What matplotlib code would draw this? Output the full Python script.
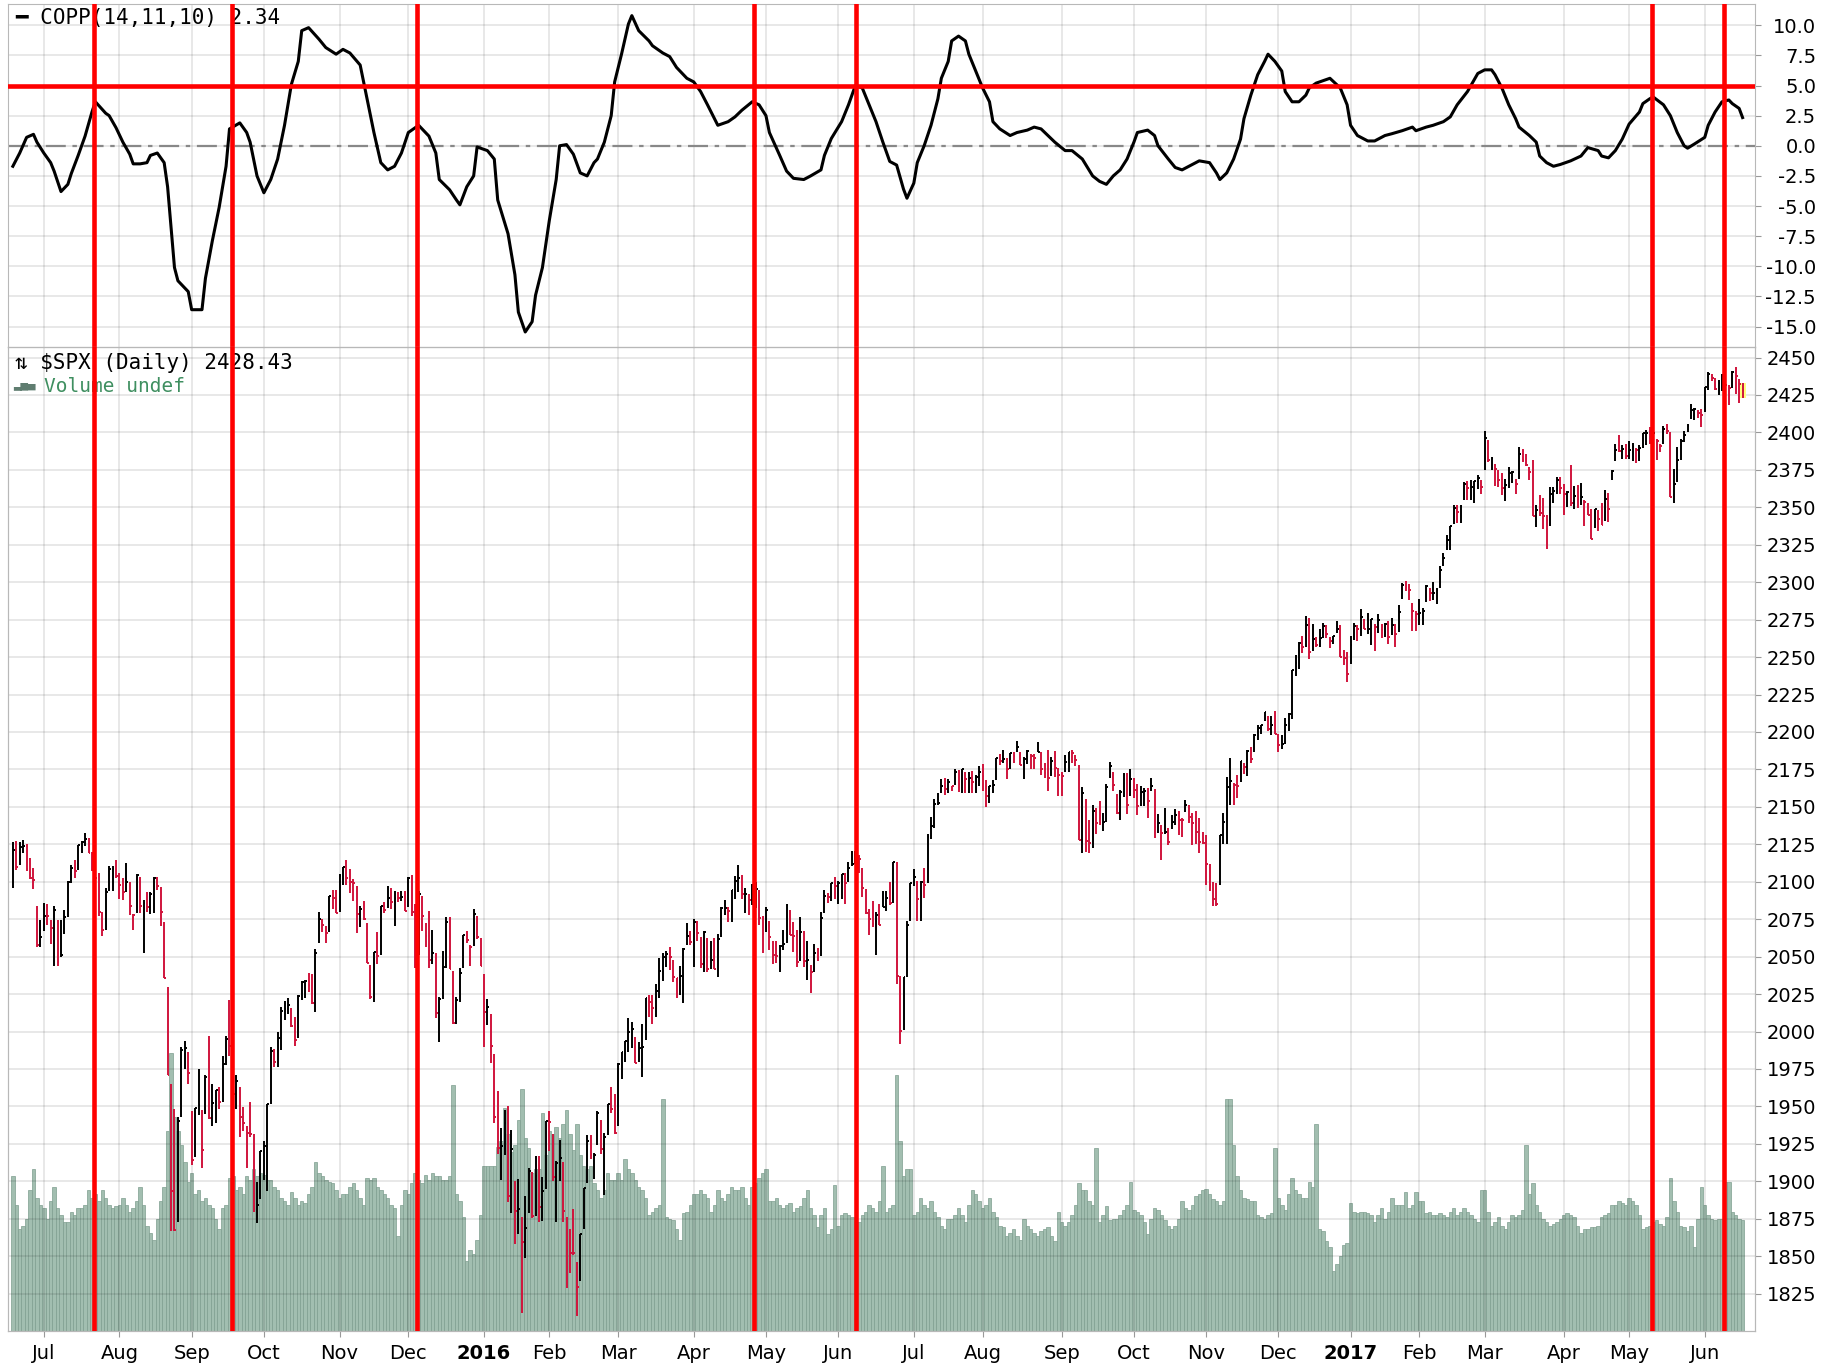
import matplotlib.pyplot as plt
import numpy as np

plt.rcParams['font.family'] = 'DejaVu Sans'
plt.rcParams['axes.unicode_minus'] = False

# S&P 500 daily bars, trading-day index 0 = 2015-06-18 ... 503 = 2017-06-16
close_px = [
    # 2015 Jun
    2121.2, 2110.0, 2122.9, 2124.2, 2108.6, 2102.3, 2101.5, 2057.6, 2063.1,
    # Jul
    2077.4, 2076.8, 2068.8, 2081.3, 2046.7, 2051.3, 2076.6, 2099.6, 2109.0, 2107.4, 2124.3,
    2126.6, 2128.3, 2119.2, 2114.2, 2102.2, 2079.7, 2067.6, 2093.3, 2108.6, 2108.6, 2103.8,
    # Aug
    2098.0, 2093.3, 2099.8, 2083.6, 2077.6, 2104.2, 2084.1, 2086.1, 2083.4, 2091.5, 2102.4,
    2096.9, 2079.6, 2035.7, 1970.9, 1893.2, 1867.6, 1940.5, 1987.7, 1988.9, 1972.2,
    # Sep
    1913.9, 1948.9, 1951.1, 1921.2, 1969.4, 1942.0, 1952.3, 1961.1, 1953.0, 1978.1, 1995.3,
    1990.2, 1958.0, 1967.0, 1942.7, 1938.8, 1932.2, 1931.3, 1881.8, 1884.1, 1920.0,
    # Oct
    1923.8, 1951.4, 1987.1, 1979.9, 1995.8, 2013.4, 2014.9, 2017.5, 2003.7, 1994.2, 2023.9,
    2033.1, 2033.7, 2030.8, 2018.9, 2052.5, 2075.2, 2071.2, 2065.9, 2090.4, 2089.4, 2079.4,
    # Nov
    2104.1, 2109.8, 2102.3, 2099.9, 2099.2, 2078.6, 2081.7, 2075.0, 2046.0, 2023.0,
    2053.2, 2050.4, 2083.6, 2081.2, 2089.2, 2086.6, 2089.1, 2088.9, 2090.1, 2080.4,
    # Dec
    2102.6, 2079.5, 2049.6, 2091.7, 2077.1, 2063.6, 2047.6, 2052.2, 2012.4, 2021.9, 2043.4,
    2073.1, 2041.9, 2005.6, 2021.2, 2039.0, 2064.3, 2061.0, 2056.5, 2078.4, 2063.4, 2043.9,
    # 2016 Jan
    2012.7, 2016.7, 1990.3, 1943.1, 1922.0, 1923.7, 1938.7, 1890.3, 1921.8, 1880.3,
    1881.3, 1859.3, 1869.0, 1906.9, 1877.1, 1903.6, 1883.0, 1893.4, 1940.2,
    # Feb
    1939.4, 1903.0, 1912.5, 1915.5, 1880.1, 1853.4, 1852.2, 1851.9, 1829.1, 1864.8,
    1895.6, 1926.8, 1917.8, 1917.8, 1945.5, 1921.3, 1929.8, 1951.7, 1948.1, 1932.2,
    # Mar
    1978.4, 1986.5, 1993.4, 2000.0, 2001.8, 1979.3, 1989.3, 1989.6, 2022.2, 2019.6, 2015.9,
    2027.2, 2040.6, 2049.6, 2051.6, 2049.8, 2036.7, 2035.9, 2037.1, 2055.0, 2064.0, 2059.7,
    # Apr
    2072.8, 2066.1, 2045.2, 2066.7, 2041.9, 2047.6, 2042.0, 2061.7, 2082.4, 2082.8, 2080.7,
    2094.3, 2100.8, 2102.4, 2091.5, 2091.6, 2087.8, 2091.7, 2095.2, 2075.8, 2065.3,
    # May
    2081.4, 2063.4, 2051.1, 2050.6, 2057.1, 2058.7, 2084.4, 2064.5, 2064.1, 2046.6, 2066.7,
    2047.2, 2047.6, 2040.0, 2052.3, 2048.0, 2076.1, 2090.5, 2090.1, 2099.1, 2097.0,
    # Jun
    2099.3, 2105.3, 2099.1, 2109.4, 2112.1, 2119.1, 2115.5, 2096.1, 2079.1, 2075.3, 2071.5,
    2078.0, 2071.2, 2083.3, 2088.9, 2085.5, 2113.3, 2037.4, 2000.5, 2036.1, 2070.8, 2098.9,
    # Jul
    2103.0, 2088.6, 2099.7, 2097.9, 2129.9, 2137.2, 2152.1, 2152.4, 2163.8, 2161.7,
    2166.9, 2163.8, 2173.0, 2165.2, 2175.0, 2168.5, 2169.2, 2166.6, 2170.1, 2173.6,
    # Aug
    2170.8, 2157.0, 2163.8, 2164.3, 2182.9, 2180.9, 2181.7, 2175.5, 2185.8, 2184.1, 2190.2, 2178.2,
    2182.2, 2187.0, 2183.9, 2182.6, 2186.9, 2175.4, 2172.5, 2169.0, 2180.4, 2176.1, 2171.0,
    # Sep
    2170.9, 2180.0, 2186.5, 2186.2, 2181.3, 2127.8, 2159.0, 2127.0, 2125.8, 2147.3, 2139.2,
    2139.1, 2139.8, 2163.1, 2177.2, 2164.7, 2146.1, 2159.9, 2171.4, 2151.1, 2168.3,
    # Oct
    2161.2, 2150.5, 2159.7, 2160.8, 2153.7, 2163.7, 2136.7, 2139.2, 2132.6, 2133.0, 2126.5,
    2139.6, 2144.3, 2141.3, 2141.2, 2151.3, 2143.2, 2139.4, 2133.0, 2126.4, 2126.2,
    # Nov
    2111.7, 2097.9, 2088.7, 2085.2, 2131.5, 2139.6, 2163.3, 2167.5, 2164.5, 2164.2, 2180.4,
    2176.9, 2187.1, 2181.9, 2198.2, 2202.9, 2204.7, 2213.4, 2201.7, 2204.7, 2198.8,
    # Dec
    2191.1, 2192.0, 2204.7, 2212.2, 2241.4, 2246.2, 2259.5, 2257.0, 2271.7, 2253.3, 2262.0,
    2258.1, 2262.5, 2270.8, 2265.2, 2261.0, 2263.8, 2268.9, 2249.9, 2249.3, 2238.8,
    # 2017 Jan
    2257.8, 2270.8, 2269.0, 2277.0, 2268.9, 2268.9, 2275.3, 2270.4, 2274.6, 2267.9,
    2271.9, 2263.7, 2271.3, 2265.2, 2280.1, 2298.4, 2296.7, 2294.7, 2280.9, 2278.9,
    # Feb
    2279.6, 2280.9, 2297.4, 2292.6, 2293.1, 2294.7, 2307.9, 2316.1, 2328.3, 2337.6,
    2349.3, 2347.2, 2351.2, 2365.4, 2362.8, 2363.8, 2367.3, 2369.8, 2363.6,
    # Mar
    2396.0, 2381.9, 2383.1, 2375.3, 2368.4, 2363.0, 2364.9, 2372.6, 2373.5, 2365.5, 2385.3, 2381.4,
    2378.3, 2373.5, 2344.0, 2348.5, 2346.0, 2344.0, 2341.6, 2358.6, 2361.1, 2368.1, 2362.7,
    # Apr
    2358.8, 2360.2, 2353.0, 2357.5, 2355.5, 2357.2, 2353.8, 2344.9, 2329.0, 2349.0,
    2342.2, 2338.2, 2355.8, 2348.7, 2374.2, 2388.6, 2387.5, 2388.8, 2384.2,
    # May
    2388.3, 2391.2, 2388.1, 2389.5, 2399.3, 2399.4, 2396.9, 2399.6, 2394.4, 2390.9, 2402.3,
    2400.7, 2357.0, 2365.7, 2381.7, 2394.0, 2398.4, 2404.4, 2415.1, 2415.8, 2412.9, 2411.8,
    # Jun
    2430.1, 2439.1, 2436.1, 2429.3, 2433.1, 2433.8, 2431.8, 2429.4, 2440.4, 2437.9, 2432.5, 2428.4,
]

high_px = [
    2126.6, 2126.9, 2126.6, 2128.0, 2125.1, 2116.0, 2108.9, 2084.0, 2074.3,
    2085.7, 2085.1, 2074.2, 2083.7, 2074.5, 2074.2, 2081.3, 2100.7, 2111.0, 2114.2, 2124.4,
    2126.9, 2132.8, 2129.0, 2119.6, 2116.9, 2106.0, 2079.7, 2095.6, 2110.6, 2110.5, 2114.2,
    2105.7, 2102.5, 2112.7, 2099.8, 2078.7, 2105.4, 2103.2, 2087.6, 2092.9, 2092.9, 2103.0,
    2103.5, 2096.2, 2073.0, 2029.6, 1965.0, 1948.0, 1943.1, 1989.6, 1993.5, 1986.0,
    1947.2, 1948.9, 1975.0, 1947.8, 1970.9, 1997.0, 1965.0, 1961.1, 1963.1, 1983.5, 1997.3,
    2020.9, 1989.4, 1971.0, 1962.8, 1949.5, 1937.2, 1952.9, 1931.8, 1899.5, 1920.5,
    1927.2, 1951.4, 1989.4, 1988.5, 1999.4, 2016.5, 2020.1, 2022.3, 2016.0, 2009.6, 2024.2,
    2033.5, 2034.5, 2039.1, 2038.2, 2055.2, 2079.7, 2075.1, 2070.4, 2090.4, 2094.3, 2094.3,
    2105.0, 2110.0, 2114.6, 2108.8, 2101.9, 2097.1, 2083.7, 2086.9, 2072.4, 2044.6,
    2053.2, 2066.7, 2083.6, 2086.7, 2097.1, 2095.6, 2094.1, 2093.0, 2093.8, 2093.8,
    2103.4, 2104.3, 2085.0, 2093.8, 2090.4, 2072.4, 2080.3, 2067.7, 2052.2, 2022.9, 2053.9,
    2076.7, 2076.4, 2040.6, 2022.9, 2042.7, 2064.7, 2067.4, 2058.0, 2081.6, 2077.3, 2062.5,
    2038.2, 2021.9, 2011.7, 1985.3, 1960.4, 1935.7, 1947.4, 1950.3, 1934.5, 1900.3,
    1901.4, 1876.1, 1889.9, 1908.9, 1906.3, 1916.8, 1916.8, 1902.9, 1940.2,
    1947.2, 1931.7, 1913.4, 1927.4, 1913.1, 1875.9, 1868.3, 1881.6, 1846.2, 1864.8,
    1895.8, 1930.7, 1930.7, 1918.8, 1946.7, 1941.2, 1932.1, 1951.8, 1963.0, 1958.6,
    1978.7, 1986.5, 1993.7, 2009.1, 2006.5, 1996.3, 1992.7, 2005.1, 2022.4, 2024.6, 2024.6,
    2032.0, 2049.3, 2052.4, 2053.9, 2056.6, 2048.0, 2036.0, 2044.0, 2055.9, 2072.2, 2067.4,
    2075.1, 2074.0, 2062.9, 2067.4, 2062.6, 2060.6, 2062.3, 2065.0, 2083.2, 2087.8, 2083.4,
    2094.5, 2104.1, 2111.1, 2104.8, 2096.0, 2091.6, 2098.2, 2099.9, 2094.3, 2076.8,
    2083.4, 2074.0, 2060.2, 2060.2, 2057.7, 2067.8, 2084.9, 2081.1, 2073.4, 2067.7, 2076.6,
    2067.4, 2060.5, 2044.3, 2058.4, 2055.6, 2079.7, 2094.7, 2092.4, 2099.1, 2103.5,
    2100.2, 2105.3, 2106.0, 2113.4, 2120.6, 2120.6, 2118.1, 2109.0, 2095.0, 2081.9, 2087.1,
    2079.6, 2085.2, 2093.7, 2093.9, 2099.5, 2113.3, 2113.3, 2037.4, 2036.1, 2073.7, 2098.9,
    2108.7, 2100.7, 2100.7, 2109.1, 2131.7, 2143.2, 2155.4, 2159.0, 2168.9, 2169.1,
    2168.7, 2163.9, 2175.6, 2174.6, 2175.6, 2173.6, 2173.5, 2174.0, 2171.0, 2177.1,
    2178.3, 2168.1, 2163.8, 2168.2, 2182.9, 2185.4, 2187.7, 2182.3, 2185.8, 2186.3, 2193.8, 2186.3,
    2183.1, 2187.9, 2185.0, 2185.2, 2193.4, 2186.7, 2179.0, 2187.9, 2183.4, 2187.1, 2175.8,
    2173.6, 2184.9, 2186.6, 2187.9, 2184.9, 2177.9, 2163.3, 2155.4, 2141.3, 2151.3, 2149.0,
    2153.6, 2145.7, 2165.1, 2179.9, 2173.3, 2158.5, 2161.1, 2172.4, 2172.7, 2175.3,
    2169.6, 2165.5, 2163.9, 2162.9, 2162.9, 2169.6, 2161.6, 2145.4, 2138.2, 2149.2, 2135.6,
    2144.4, 2148.4, 2147.2, 2142.6, 2154.8, 2151.4, 2145.7, 2147.1, 2142.4, 2133.3,
    2131.5, 2111.8, 2099.9, 2099.1, 2131.5, 2145.7, 2170.1, 2182.3, 2165.9, 2171.4, 2180.8,
    2179.2, 2188.1, 2189.9, 2198.7, 2204.8, 2204.7, 2213.4, 2211.0, 2210.5, 2214.1,
    2198.8, 2197.9, 2209.4, 2212.5, 2241.6, 2251.7, 2259.8, 2264.0, 2277.5, 2276.2, 2272.1,
    2263.3, 2269.0, 2272.6, 2271.2, 2263.2, 2263.8, 2273.8, 2271.3, 2254.5, 2253.6,
    2263.9, 2273.0, 2271.2, 2282.1, 2275.5, 2279.3, 2275.3, 2271.8, 2278.7, 2272.1,
    2272.6, 2274.3, 2276.0, 2271.8, 2284.6, 2299.6, 2301.0, 2299.0, 2286.0, 2281.0,
    2289.1, 2283.0, 2298.3, 2296.2, 2300.0, 2295.9, 2311.1, 2319.2, 2331.6, 2337.6,
    2351.3, 2351.3, 2351.3, 2366.7, 2367.8, 2368.3, 2367.3, 2371.5, 2368.0,
    2401.0, 2394.8, 2383.9, 2378.8, 2375.1, 2373.1, 2369.1, 2376.9, 2374.4, 2368.6, 2390.0, 2388.7,
    2385.7, 2376.9, 2381.9, 2351.8, 2358.2, 2356.2, 2344.9, 2363.8, 2363.8, 2370.4, 2370.4,
    2365.9, 2361.0, 2378.4, 2364.2, 2365.1, 2366.4, 2355.2, 2352.7, 2348.8, 2349.1,
    2348.4, 2352.6, 2361.4, 2359.3, 2375.0, 2392.0, 2398.2, 2391.4, 2392.1,
    2394.5, 2392.9, 2389.8, 2391.4, 2399.3, 2401.4, 2403.9, 2399.7, 2395.5, 2392.2, 2404.0,
    2405.8, 2400.0, 2375.7, 2390.0, 2395.5, 2400.8, 2405.6, 2418.7, 2416.0, 2415.3, 2415.8,
    2430.1, 2440.2, 2439.0, 2436.2, 2435.3, 2439.0, 2446.2, 2431.9, 2441.0, 2443.8, 2435.8, 2433.0,
]

low_px = [
    2096.1, 2108.0, 2111.2, 2119.3, 2107.0, 2101.8, 2095.4, 2056.3, 2056.2,
    2067.1, 2071.3, 2058.4, 2044.0, 2044.0, 2049.8, 2065.0, 2076.6, 2099.2, 2102.7, 2108.0,
    2118.9, 2123.7, 2119.1, 2106.9, 2098.6, 2077.1, 2063.5, 2067.6, 2094.1, 2094.1, 2102.5,
    2088.5, 2087.6, 2093.3, 2077.8, 2067.9, 2079.1, 2079.1, 2052.1, 2080.0, 2078.3, 2079.3,
    2094.3, 2070.5, 2035.7, 1970.9, 1867.0, 1867.1, 1872.8, 1942.8, 1975.2, 1965.1,
    1911.0, 1916.5, 1944.4, 1908.9, 1944.7, 1941.3, 1937.0, 1939.1, 1948.0, 1953.0, 1977.9,
    1983.4, 1953.6, 1948.6, 1929.8, 1933.5, 1908.8, 1929.3, 1879.2, 1871.9, 1888.0,
    1900.7, 1893.7, 1951.4, 1976.4, 1976.4, 1987.5, 2007.5, 2011.9, 2002.9, 1990.4, 1995.4,
    2020.9, 2022.3, 2026.6, 2018.1, 2013.0, 2058.8, 2066.5, 2058.8, 2066.3, 2081.6, 2079.1,
    2080.0, 2098.1, 2097.5, 2092.4, 2087.4, 2066.0, 2069.7, 2074.2, 2045.7, 2022.0,
    2019.4, 2045.0, 2051.0, 2079.1, 2082.6, 2081.5, 2070.3, 2086.3, 2086.9, 2080.4,
    2082.9, 2077.1, 2042.4, 2051.2, 2066.8, 2056.3, 2042.7, 2045.0, 2008.9, 1993.3, 2022.0,
    2042.4, 2041.7, 2005.3, 2005.1, 2020.0, 2042.2, 2058.9, 2044.0, 2057.2, 2061.6, 2043.6,
    1989.7, 2004.2, 1979.1, 1938.8, 1918.5, 1901.1, 1917.3, 1886.3, 1878.9, 1857.8,
    1864.6, 1812.3, 1848.9, 1878.9, 1875.8, 1877.1, 1872.7, 1873.4, 1894.7,
    1920.3, 1900.1, 1872.7, 1900.5, 1872.7, 1828.5, 1839.0, 1851.0, 1810.1, 1833.4,
    1868.3, 1898.8, 1915.0, 1901.4, 1924.4, 1918.4, 1891.0, 1930.7, 1945.8, 1931.9,
    1937.1, 1968.5, 1979.8, 1986.5, 1989.3, 1979.1, 1979.8, 1969.3, 1994.5, 2009.6, 2005.1,
    2010.0, 2022.4, 2033.8, 2043.1, 2040.8, 2032.8, 2022.5, 2024.5, 2019.2, 2057.5, 2057.6,
    2043.1, 2060.6, 2042.6, 2039.7, 2039.5, 2041.9, 2041.9, 2036.2, 2062.9, 2078.0, 2073.3,
    2073.0, 2088.6, 2093.3, 2088.6, 2079.1, 2077.5, 2084.3, 2082.3, 2071.0, 2052.3,
    2066.2, 2054.4, 2045.4, 2045.8, 2039.5, 2054.6, 2059.3, 2064.5, 2053.1, 2043.1, 2047.0,
    2043.0, 2034.5, 2025.9, 2040.0, 2047.3, 2050.4, 2078.9, 2085.5, 2087.0, 2088.7,
    2085.1, 2088.6, 2085.4, 2100.0, 2110.6, 2112.0, 2106.0, 2089.9, 2078.5, 2064.6, 2070.0,
    2051.0, 2071.2, 2083.3, 2080.6, 2084.7, 2085.8, 2032.0, 1991.7, 2001.0, 2036.1, 2074.0,
    2097.0, 2074.0, 2074.0, 2089.4, 2099.1, 2128.8, 2135.9, 2151.1, 2159.1, 2157.9,
    2159.5, 2160.6, 2164.9, 2159.8, 2159.3, 2159.0, 2159.0, 2159.0, 2159.1, 2163.8,
    2160.4, 2149.6, 2152.7, 2159.1, 2168.0, 2177.9, 2179.1, 2168.5, 2175.5, 2179.4, 2186.3, 2178.1,
    2168.5, 2178.4, 2175.1, 2175.1, 2186.8, 2171.3, 2169.1, 2160.4, 2170.7, 2170.1, 2157.1,
    2157.0, 2173.6, 2173.4, 2179.1, 2177.5, 2127.8, 2119.1, 2120.0, 2119.1, 2122.4, 2131.6,
    2138.0, 2133.9, 2139.6, 2169.0, 2160.9, 2145.4, 2141.5, 2156.5, 2145.4, 2157.1,
    2156.1, 2144.9, 2150.3, 2150.3, 2142.6, 2160.4, 2128.9, 2132.8, 2114.7, 2132.0, 2124.4,
    2135.5, 2138.2, 2131.4, 2130.1, 2146.3, 2139.2, 2124.8, 2125.3, 2119.1, 2125.5,
    2097.9, 2094.0, 2083.8, 2083.8, 2097.9, 2125.4, 2125.0, 2151.2, 2151.2, 2156.1, 2166.4,
    2172.2, 2170.9, 2179.3, 2186.4, 2194.5, 2198.4, 2207.0, 2200.4, 2198.2, 2198.4,
    2186.9, 2188.4, 2192.0, 2200.4, 2208.9, 2237.1, 2242.0, 2252.6, 2257.0, 2248.4, 2253.8,
    2257.0, 2257.0, 2262.9, 2263.0, 2256.1, 2258.8, 2266.2, 2249.8, 2244.6, 2233.6,
    2245.1, 2261.6, 2260.5, 2264.1, 2268.9, 2265.3, 2258.4, 2254.3, 2266.1, 2262.8,
    2263.4, 2258.8, 2265.0, 2257.0, 2266.8, 2288.9, 2294.1, 2288.1, 2267.2, 2267.2,
    2271.7, 2271.7, 2287.0, 2287.6, 2288.1, 2285.4, 2296.1, 2311.1, 2321.4, 2321.4,
    2338.9, 2339.6, 2339.6, 2355.1, 2355.1, 2355.1, 2352.9, 2362.1, 2358.7,
    2375.0, 2380.2, 2375.1, 2364.0, 2363.5, 2358.0, 2354.5, 2363.0, 2366.4, 2358.6, 2368.6, 2380.1,
    2377.8, 2368.4, 2344.0, 2336.9, 2344.2, 2335.7, 2322.3, 2337.6, 2352.9, 2358.7, 2359.0,
    2344.7, 2350.0, 2350.7, 2348.9, 2349.7, 2351.5, 2337.3, 2344.9, 2328.9, 2336.1,
    2334.5, 2338.2, 2340.9, 2340.3, 2368.0, 2381.2, 2386.8, 2382.4, 2382.4,
    2382.4, 2380.6, 2379.8, 2380.7, 2389.6, 2391.4, 2392.4, 2390.5, 2381.9, 2387.2, 2392.4,
    2399.2, 2357.0, 2352.7, 2367.0, 2381.9, 2393.9, 2400.1, 2408.9, 2408.6, 2409.6, 2403.6,
    2413.5, 2428.1, 2434.5, 2428.2, 2424.8, 2427.5, 2415.7, 2418.5, 2430.0, 2425.5, 2419.4, 2422.9,
]

volume = [
    4.4, 3.6, 2.9, 3.0, 3.2, 4.0, 4.6, 3.8, 3.6, 3.5,
    3.2, 3.7, 4.1, 3.5, 3.3, 3.1, 3.1, 3.4, 3.3, 3.5,
    3.5, 3.6, 4.0, 3.8, 3.9, 3.7, 4.0, 3.8, 3.6, 3.5,
    3.55, 3.6, 3.8, 3.6, 3.4, 3.5, 3.7, 4.1, 3.6, 3.0,
    2.8, 2.6, 3.2, 3.7, 4.1, 5.7, 7.9, 6.1, 5.7, 5.3,
    4.8, 4.25, 4.5, 3.9, 4.0, 3.7, 3.8, 3.6, 3.5, 3.2,
    2.9, 3.5, 3.6, 4.35, 4.4, 4.0, 4.1, 3.9, 4.4, 4.3,
    4.6, 4.4, 4.5, 4.45, 4.3, 4.3, 4.1, 4.0, 3.8, 3.7,
    3.6, 3.95, 3.8, 3.6, 3.7, 3.65, 3.9, 4.1, 4.8, 4.5,
    4.4, 4.3, 4.25, 4.2, 4.0, 3.8, 3.9, 3.9, 4.1, 4.2,
    4.0, 3.8, 3.6, 4.35, 4.3, 4.35, 4.1, 4.0, 3.9, 3.8,
    3.6, 3.5, 2.7, 3.6, 4.0, 3.9, 4.2, 4.5, 4.3, 4.2,
    4.45, 4.3, 4.5, 4.4, 4.4, 4.3, 4.3, 4.4, 7.0, 3.9,
    3.7, 3.25, 2.0, 2.3, 2.2, 2.6, 3.3, 4.7, 4.7, 4.7,
    4.7, 5.25, 5.4, 6.35, 5.6, 5.1, 5.3, 6.0, 6.9, 5.5,
    5.2, 4.5, 4.6, 4.6, 6.2, 5.0, 5.7, 5.6, 5.8, 5.5,
    5.9, 6.3, 5.6, 5.15, 5.9, 5.0, 4.7, 4.6, 4.7, 4.2,
    4.0, 3.8, 4.0, 4.5, 4.3, 4.3, 4.5, 4.3, 4.9, 4.6,
    4.5, 4.3, 4.1, 4.0, 3.8, 3.3, 3.4, 3.5, 3.6, 6.6,
    3.25, 3.2, 3.15, 2.9, 2.6, 3.35, 3.4, 3.6, 3.9, 3.9,
    4.0, 3.9, 3.8, 3.4, 3.6, 4.0, 3.8, 3.7, 3.9, 4.1,
    4.0, 4.0, 4.1, 3.8, 3.6, 4.1, 4.2, 4.35, 4.5, 4.6,
    3.7, 3.7, 3.8, 3.6, 3.5, 3.6, 3.65, 3.4, 3.5, 3.55,
    3.8, 4.0, 3.5, 3.3, 2.95, 3.3, 3.5, 2.75, 2.9, 4.15,
    3.0, 3.3, 3.35, 3.3, 3.25, 3.1, 3.1, 3.3, 3.4, 3.6,
    3.5, 3.4, 3.7, 4.7, 3.4, 3.5, 3.6, 7.3, 5.4, 4.4,
    4.6, 4.6, 3.3, 3.4, 3.8, 3.6, 3.5, 3.7, 3.4, 3.25,
    3.0, 2.9, 3.2, 3.2, 3.3, 3.5, 3.3, 3.1, 3.6, 4.0,
    3.9, 3.7, 3.5, 3.6, 3.8, 3.4, 3.25, 3.0, 2.96, 2.7,
    2.8, 2.9, 2.7, 2.6, 3.2, 3.0, 2.9, 2.8, 2.7, 2.85,
    2.9, 2.95, 2.7, 2.55, 3.4, 3.1, 3.0, 3.1, 3.3, 3.6,
    4.2, 4.0, 4.0, 3.7, 3.6, 5.2, 3.1, 3.3, 3.55, 3.15,
    3.2, 3.2, 3.3, 3.45, 3.6, 4.25, 3.45, 3.4, 3.3, 3.1,
    2.75, 3.2, 3.5, 3.45, 3.3, 3.15, 3.0, 2.9, 3.0, 3.2,
    3.7, 3.5, 3.45, 3.6, 3.85, 3.9, 4.0, 4.05, 3.9, 3.75,
    3.7, 3.6, 3.7, 6.6, 6.6, 5.3, 4.4, 4.0, 3.8, 3.75,
    3.7, 3.7, 3.3, 3.25, 3.2, 3.3, 3.35, 5.2, 3.8, 3.6,
    3.45, 3.9, 4.35, 4.0, 3.9, 3.8, 3.8, 4.25, 4.1, 5.9,
    2.9, 2.85, 2.55, 2.4, 1.7, 1.9, 2.15, 2.45, 2.5, 3.65,
    3.4, 3.35, 3.4, 3.4, 3.35, 3.3, 3.1, 3.3, 3.5, 3.2,
    3.4, 3.8, 3.6, 3.6, 3.6, 3.95, 3.5, 3.6, 3.95, 3.7,
    3.7, 3.35, 3.4, 3.3, 3.3, 3.35, 3.3, 3.25, 3.4, 3.5,
    3.3, 3.4, 3.5, 3.4, 3.3, 3.2, 3.1, 4.0, 4.0, 3.4,
    3.0, 3.1, 3.25, 3.0, 2.9, 3.1, 3.3, 3.25, 3.3, 3.45,
    5.3, 3.9, 4.2, 3.6, 3.4, 3.2, 3.1, 3.0, 3.05, 3.1,
    3.2, 3.3, 3.35, 3.3, 3.25, 3.0, 2.8, 2.9, 2.9, 2.95,
    2.95, 3.0, 3.25, 3.3, 3.35, 3.6, 3.6, 3.7, 3.65, 3.6,
    3.8, 3.7, 3.6, 3.3, 2.9, 2.95, 3.0, 3.1, 3.15, 3.05,
    3.0, 3.25, 4.36, 3.7, 3.4, 3.0, 2.95, 2.85, 3.0, 2.4,
    3.2, 4.1, 3.6, 3.3, 3.2, 3.15, 3.2, 3.2, 4.25, 4.25,
    3.4, 3.3, 3.2, 3.15,
]

# Coppock curve (trading-day index, value)
copp_day = [
    0, 2, 4, 6, 7, 9, 11, 12, 14, 16, 17, 19, 21, 23, 24, 27, 28, 30, 32, 34, 35, 37, 39, 40,
    42, 44, 45, 46, 47, 48, 51, 52, 55, 56, 58, 60, 62, 63, 66, 68, 69, 71, 73, 75, 77, 79,
    81, 83, 84, 86, 89, 91, 94, 96, 98, 101, 102, 105, 107, 109, 111, 113, 115, 117, 118,
    121, 123, 124, 127, 129, 130, 132, 134, 135, 138, 140, 141, 144, 146, 147, 149, 151,
    152, 154, 156, 158, 159, 161, 163, 165, 167, 169, 170, 172, 174, 175, 177, 179, 180,
    182, 185, 186, 189, 191, 193, 196, 198, 200, 202, 205, 208, 210, 212, 215, 217, 219,
    220, 223, 225, 227, 230, 232, 235, 236, 238, 241, 243, 245, 247, 249, 251, 253, 255,
    257, 258, 259, 260, 262, 263, 265, 267, 269, 270, 272, 273, 275, 277, 278, 280, 282,
    284, 285, 287, 290, 292, 295, 297, 299, 301, 303, 306, 308, 311, 314, 316, 318, 320,
    322, 324, 326, 327, 330, 332, 333, 336, 338, 340, 343, 345, 348, 350, 351, 353, 355,
    357, 358, 360, 362, 364, 365, 367, 369, 370, 372, 374, 376, 377, 379, 382, 383, 386,
    388, 389, 391, 394, 396, 399, 401, 404, 407, 408, 411, 413, 416, 418, 420, 423, 425,
    426, 428, 430, 431, 433, 435, 437, 438, 441, 443, 444, 446, 448, 450, 453, 456, 458,
    461, 462, 464, 466, 468, 470, 473, 474, 476, 477, 480, 482, 484, 486, 487, 489, 492,
    493, 495, 497, 499, 500, 502, 503,
]
copp_value = [
    -1.7, -0.6, 0.7, 0.95, 0.3, -0.6, -1.4, -2.1, -3.8, -3.2, -2.3, -0.8, 0.8, 2.8, 3.65, 2.7,
    2.5, 1.5, 0.3, -0.7, -1.5, -1.5, -1.4, -0.8,
    -0.6, -1.4, -3.4, -6.7, -10.1, -11.2, -12.1, -13.6, -13.6, -11.0, -7.9, -5.1, -1.7, 1.4,
    1.9, 1.1, 0.3, -2.5, -3.9, -2.8, -1.1, 1.7,
    5.1, 7.0, 9.55, 9.8, 8.85, 8.15, 7.6, 8.0, 7.7, 6.7, 5.3, 1.1, -1.4, -2.0, -1.7, -0.6, 1.1,
    1.5, 1.7,
    0.8, -0.6, -2.8, -3.65, -4.5, -4.9, -3.4, -2.5, -0.1, -0.4, -1.1, -4.5, -7.3, -10.7,
    -13.8, -15.45, -14.6,
    -12.4, -10.1, -6.2, -2.8, 0.0, 0.1, -0.7, -2.25, -2.5, -1.4, -1.1, 0.3, 2.5, 5.3, 7.6,
    10.1, 10.8,
    9.55, 8.7, 8.3, 7.7, 7.4, 6.5, 5.6, 5.3, 4.5, 3.4, 1.7, 2.0, 2.4, 2.95, 3.65, 3.4, 2.5,
    1.1, -0.8, -2.1, -2.7, -2.8, -2.5, -2.0, -0.8, 0.6, 2.0, 3.4, 5.0, 4.8, 3.4, 2.0, 0.3,
    -1.3,
    -1.6, -2.6, -3.6, -4.35, -3.1, -1.4, 0.0, 1.7, 3.9, 5.6, 7.0, 8.7, 9.1, 8.7, 7.6, 6.2,
    4.8,
    3.65, 2.0, 1.4, 0.85, 1.1, 1.3, 1.55, 1.4, 0.85, 0.3, -0.4, -0.4, -1.1, -2.5, -2.95,
    -3.2, -2.5,
    -2.0, -1.1, 0.3, 1.1, 1.3, 0.85, 0.0, -1.1, -1.8, -2.0, -1.55, -1.25, -1.4, -2.25, -2.8,
    -2.25, -1.1,
    0.55, 2.25, 4.2, 5.9, 7.0, 7.6, 7.0, 6.2, 4.5, 3.65, 3.65, 4.2, 4.8, 5.2, 5.5, 5.6, 4.8,
    3.4, 1.7, 0.85, 0.4, 0.4, 0.85, 1.0, 1.25, 1.55, 1.25, 1.55, 1.7, 2.0, 2.4, 3.4, 4.5,
    5.5,
    6.0, 6.3, 6.3, 5.9, 4.8, 3.4, 2.25, 1.55, 0.85, 0.3, -0.85, -1.4, -1.7, -1.55, -1.25,
    -0.85, -0.15,
    -0.4, -0.85, -1.0, -0.4, 0.55, 1.8, 2.8, 3.5, 3.9, 4.05, 3.4, 2.5, 1.1, 0.0, -0.2, 0.15,
    0.7,
    1.7, 2.8, 3.65, 3.8, 3.5, 3.1, 2.34,
]

# red signal lines drawn on the chart
signal_days = [23.7, 63.7, 117.5, 215.4, 245.2, 476.6, 497.6]
signal_level = 5.0

month_days = [9, 31, 52, 73, 95, 115, 137, 156, 176, 198, 219, 240,
              262, 282, 305, 326, 347, 368, 389, 409, 428, 451, 470, 492]
month_labels = ['Jul', 'Aug', 'Sep', 'Oct', 'Nov', 'Dec', '2016', 'Feb', 'Mar', 'Apr', 'May', 'Jun',
                'Jul', 'Aug', 'Sep', 'Oct', 'Nov', 'Dec', '2017', 'Feb', 'Mar', 'Apr', 'May', 'Jun']

assert len(close_px) == len(high_px) == len(low_px) == len(volume), \
    (len(close_px), len(high_px), len(low_px), len(volume))
assert len(copp_day) == len(copp_value), (len(copp_day), len(copp_value))

days = np.arange(len(close_px))
close_arr = np.array(close_px)
up = np.concatenate([[True], close_arr[1:] >= close_arr[:-1]])
bar_colors = np.where(up, '#000000', '#d0143c')

fig = plt.figure(figsize=(18.26, 13.68), dpi=100)
ax_top = fig.add_axes([0.0044, 0.7463, 0.9567, 0.2511])
ax_px = fig.add_axes([0.0044, 0.0270, 0.9567, 0.7193], sharex=ax_top)
ax_vol = ax_px.twinx()
ax_px.set_zorder(ax_vol.get_zorder() + 1)
ax_px.patch.set_visible(False)

grid_kw = dict(color='black', alpha=0.11, linewidth=1.2)

# --- Coppock panel ---
ax_top.plot(copp_day, copp_value, color='black', linewidth=2.2, zorder=3)
ax_top.axhline(0, color='#888888', linewidth=1.6, dashes=(9, 3, 2, 3), zorder=2)
ax_top.axhline(signal_level, color='#ff0000', linewidth=3.3, zorder=6)
ax_top.set_ylim(-16.7, 11.8)
ax_top.set_yticks(np.arange(-15, 10.1, 2.5))
ax_top.set_yticklabels([f'{v:.1f}' for v in np.arange(-15, 10.1, 2.5)])
ax_top.grid(True, **grid_kw)
ax_top.tick_params(axis='x', bottom=False, labelbottom=False)
ax_top.text(0.004, 0.958, '\u2501 COPP(14,11,10) 2.34', transform=ax_top.transAxes,
            family='DejaVu Sans Mono', fontsize=15, va='center', ha='left', zorder=4)

# --- price panel ---
ax_vol.bar(days, volume, width=1.0, color='#a2beb0', edgecolor='#7e9e8f', linewidth=0.5)
ax_vol.set_ylim(0, 28)
ax_vol.tick_params(right=False, labelright=False)
ax_vol.set_facecolor('white')

ax_px.bar(days[-1], high_px[-1] - low_px[-1], bottom=low_px[-1], width=2.0,
          color='#ffff80', zorder=1.8)
ax_px.vlines(days, low_px, high_px, colors=bar_colors, linewidth=1.4, zorder=3)
ax_px.hlines(close_px, days, days + 0.55, colors=bar_colors, linewidth=1.4, zorder=3)
ax_px.set_ylim(1800, 2457)
ax_px.set_yticks(np.arange(1825, 2451, 25))
ax_px.yaxis.tick_right()
ax_px.grid(True, **grid_kw)

ax_px.text(0.004, 0.984, '\u21c5 $SPX (Daily) 2428.43', transform=ax_px.transAxes,
           family='DejaVu Sans Mono', fontsize=15, va='center', ha='left', zorder=4)
ax_px.text(0.003, 0.961, '\u2583\u2586\u2585', transform=ax_px.transAxes,
           family='DejaVu Sans', fontsize=7, color='#5f7d70', va='center', ha='left', zorder=4)
ax_px.text(0.0205, 0.960, 'Volume undef', transform=ax_px.transAxes,
           family='DejaVu Sans Mono', fontsize=14, color='#3f8f60', va='center', ha='left', zorder=4)

for d in signal_days:
    ax_top.axvline(d, color='#ff0000', linewidth=3.3, zorder=6)
    ax_px.axvline(d, color='#ff0000', linewidth=3.3, zorder=6)

ax_px.set_xlim(-1.4, 506.6)
ax_px.set_xticks(month_days)
ax_px.set_xticklabels(month_labels)
for lab in ax_px.get_xticklabels():
    if lab.get_text().startswith('20'):
        lab.set_fontweight('bold')

for ax in (ax_top, ax_px):
    ax.yaxis.tick_right()
    ax.tick_params(axis='y', direction='out', length=4, color='#999999', labelsize=14, pad=40)
    for lab in ax.get_yticklabels():
        lab.set_horizontalalignment('right')
    for sp in ax.spines.values():
        sp.set_color('#b8b8b8')
for sp in ax_vol.spines.values():
    sp.set_color('#b8b8b8')
ax_px.tick_params(axis='x', direction='out', length=4, color='#999999', labelsize=14, pad=5)

fig.savefig('out.png', dpi=100, facecolor='white')
